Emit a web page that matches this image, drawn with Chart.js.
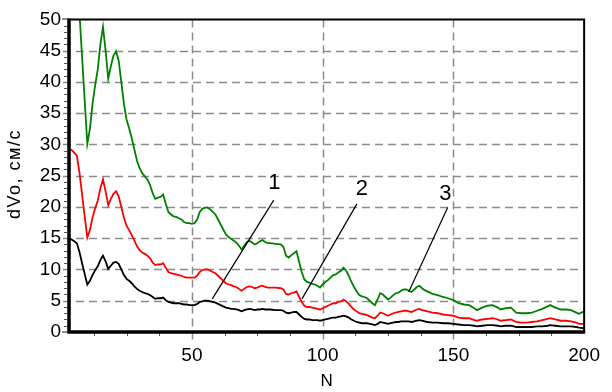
<!DOCTYPE html>
<html>
<head>
<meta charset="utf-8">
<script src="https://cdn.jsdelivr.net/npm/chart.js@4"></script>
<style>
  html, body { margin: 0; padding: 0; background: #fff; }
  canvas { display: block; }
</style>
</head>
<body>
<canvas id="chart" width="612" height="392"></canvas>
<script>
// N values (shared by all three curves)
const nValues = [3,4,5,6,7,8,9,10,11,12,13,14,15,16,17,18,19,20,21,22,23,24,25,26,27,28,29,30,
  31,32,33,34,35,36,37,38,39,40,41,42,43,44,45,46,47,48,49,50,51,52,53,54,55,56,57,58,59,60,
  61,62,63,64,65,66,67,68,69,70,71,72,73,74,75,76,77,78,79,80,82,84,85,86,87,88,89,90,
  91,92,93,94,95,96,97,98,99,100,101,102,103,104,105,106,107,108,109,110,111,112,113,114,115,116,117,118,119,120,
  121,122,123,124,125,126,127,128,129,130,131,132,133,134,135,136,137,138,139,140,142,144,146,148,150,
  152,154,156,158,159,161,163,165,167,168,170,172,174,176,178,180,182,184,186,187,189,191,193,195,197,198,200];

// curve 3 (green)
const curve3 = [58.4,58.2,57.4,56.4,51,44,37,30.1,32.5,36.5,39.5,42,46,48.8,45,40.5,42.5,44.2,44.9,43.4,40,36.5,34,32.6,31,29.2,27.4,26.2,
  25.4,24.9,24.4,23.5,22.2,21.3,21.5,21.6,22.0,20.5,19.2,18.8,18.5,18.4,18.2,18.0,17.6,17.4,17.4,17.3,17.4,18.0,19.2,19.7,19.9,19.9,19.6,19.2,18.8,18.0,
  17.2,16.4,15.6,15.2,14.9,14.6,14.3,13.8,13.2,13.8,14.4,14.6,14.3,14.0,14.2,14.5,14.7,14.4,14.2,14.2,14.1,14.0,13.6,12.2,11.9,12.3,12.6,12.9,
  11.2,9.6,8.4,8.0,7.9,7.7,7.6,7.4,7.1,7.6,8.0,8.3,8.7,9.1,9.2,9.5,9.8,10.3,9.8,9.0,8.0,7.2,6.5,5.9,5.7,5.6,5.4,5.0,4.6,4.3,
  5.2,6.2,6.0,5.6,5.2,5.5,5.9,6.2,6.3,6.6,6.8,6.8,6.6,6.4,6.8,7.2,7.4,7.0,6.7,6.5,6.1,5.9,5.6,5.4,5.1,
  4.6,4.4,4.3,3.8,3.5,3.9,4.2,4.3,3.9,3.6,3.8,3.9,3.1,3.0,3.0,3.1,3.4,3.7,4.1,4.3,3.9,3.6,3.6,3.5,3.1,2.9,3.3];

// curve 2 (red)
const curve2 = [29.2,29.1,28.7,28.2,25.5,22,18.5,15.1,16.3,18.3,19.8,21,23,24.4,22.5,20.3,21.3,22.1,22.5,21.7,20,18.3,17,16.3,15.5,14.6,13.7,13.1,
  12.7,12.5,12.2,11.8,11.1,10.7,10.8,10.8,11,10.3,9.6,9.4,9.3,9.2,9.1,9,8.8,8.7,8.7,8.7,8.7,9,9.6,9.9,10,10,9.8,9.6,9.4,9,
  8.6,8.2,7.8,7.6,7.5,7.3,7.2,6.9,6.6,6.9,7.2,7.3,7.2,7,7.1,7.3,7.4,7.2,7.1,7.1,7.1,7,6.8,6.1,6,6.2,6.3,6.5,
  5.6,4.8,4.2,4,4,3.9,3.8,3.7,3.6,3.8,4,4.2,4.4,4.6,4.6,4.8,4.9,5.2,4.9,4.5,4,3.6,3.3,3,2.9,2.8,2.7,2.5,2.3,2.2,
  2.6,3.1,3,2.8,2.6,2.8,3,3.1,3.2,3.3,3.4,3.4,3.3,3.2,3.4,3.6,3.7,3.5,3.4,3.3,3.1,3,2.8,2.7,2.6,
  2.3,2.2,2.2,1.9,1.8,2,2.1,2.2,2,1.8,1.9,2,1.6,1.5,1.5,1.6,1.7,1.9,2.1,2.2,2,1.8,1.8,1.7,1.5,1.3,1.3];

// curve 1 (black)
const curve1 = [15.0,14.8,14.5,14.2,12.8,11,9.3,7.6,8.2,9.1,9.9,10.5,11.5,12.2,11.3,10.1,10.6,11.1,11.2,10.9,10,9.1,8.5,8.2,7.8,7.3,6.9,6.6,
  6.4,6.2,6.1,5.9,5.6,5.3,5.4,5.4,5.5,5.1,4.8,4.7,4.6,4.6,4.6,4.5,4.4,4.4,4.3,4.3,4.3,4.5,4.8,4.9,5,5,4.9,4.8,4.7,4.5,
  4.3,4.1,3.9,3.8,3.7,3.7,3.6,3.5,3.3,3.5,3.6,3.7,3.6,3.5,3.6,3.6,3.7,3.6,3.6,3.6,3.5,3.5,3.4,3.1,3,3.1,3.2,3.2,
  2.8,2.4,2.1,2,2,1.9,1.9,1.9,1.8,1.9,2,2.1,2.2,2.3,2.3,2.4,2.5,2.6,2.5,2.3,2,1.8,1.6,1.5,1.4,1.4,1.4,1.3,1.2,1.1,
  1.3,1.6,1.5,1.4,1.3,1.4,1.5,1.6,1.6,1.7,1.7,1.7,1.7,1.6,1.7,1.8,1.9,1.8,1.7,1.6,1.5,1.5,1.4,1.4,1.3,
  1.2,1.1,1.1,1,0.9,1,1.1,1.1,1,0.9,1,1,0.8,0.8,0.8,0.8,0.9,0.9,1,1.1,1,0.9,0.9,0.9,0.8,0.7,0.6];

const xTickValues = [50, 100, 150, 200];
const xMinorStep = 12.5;
const yMinorStep = 1;

// callout labels: text anchor and arrow end, in data units
const callouts = [
  { text: '1', label: [81.5, 23.9], from: [81.3, 21.1], to: [57.8, 5.3] },
  { text: '2', label: [115, 22.9], from: [113.1, 20.5], to: [92.1, 5.3] },
  { text: '3', label: [146.9, 22.1], from: [147.8, 19.9], to: [132.9, 6.4] }
];

function toXY(ys) {
  return nValues.map((n, i) => ({ x: n, y: ys[i] }));
}

const FONT = '"Liberation Sans", Arial, sans-serif';

const decorPlugin = {
  id: 'decor',
  beforeDatasetsDraw(chart) {
    const { ctx, chartArea: a, scales: { x, y } } = chart;
    ctx.save();
    ctx.strokeStyle = '#8c8c8c';
    ctx.lineWidth = 1.5;
    ctx.setLineDash([8, 5]);
    // horizontal grid
    for (let v = 5; v < 50; v += 5) {
      const py = Math.round(y.getPixelForValue(v)) + 0.5;
      ctx.beginPath();
      ctx.moveTo(a.left - 6, py);
      ctx.lineTo(a.right, py);
      ctx.stroke();
    }
    // vertical grid
    xTickValues.forEach(v => {
      if (v >= 200) return;
      const px = Math.round(x.getPixelForValue(v)) + 0.5;
      ctx.beginPath();
      ctx.moveTo(px, a.top);
      ctx.lineTo(px, a.bottom + 8);
      ctx.stroke();
    });
    ctx.restore();
  },
  afterDatasetsDraw(chart) {
    const { ctx, chartArea: a, scales: { x, y } } = chart;
    ctx.save();
    // tick marks
    ctx.strokeStyle = '#8c8c8c';
    ctx.lineWidth = 2;
    [0, 50].forEach(v => {
      const py = Math.round(y.getPixelForValue(v));
      ctx.beginPath();
      ctx.moveTo(a.left - 7, py);
      ctx.lineTo(a.left, py);
      ctx.stroke();
    });
    ctx.strokeStyle = '#555';
    ctx.lineWidth = 1;
    for (let v = 0; v <= 50; v += yMinorStep) {
      if (v % 5 === 0) continue;
      const py = Math.round(y.getPixelForValue(v)) + 0.5;
      ctx.beginPath();
      ctx.moveTo(a.left - 5, py);
      ctx.lineTo(a.left - 2, py);
      ctx.stroke();
    }
    for (let v = xMinorStep; v < 200; v += xMinorStep) {
      if (v % 50 === 0) continue;
      const px = Math.round(x.getPixelForValue(v)) + 0.5;
      ctx.beginPath();
      ctx.moveTo(px, a.bottom);
      ctx.lineTo(px, a.bottom + 4);
      ctx.stroke();
    }
    // frame
    ctx.strokeStyle = '#000';
    ctx.lineWidth = 2;
    ctx.beginPath();
    ctx.moveTo(a.left, a.top);
    ctx.lineTo(a.right, a.top);
    ctx.lineTo(a.right, a.bottom);
    ctx.stroke();
    ctx.lineWidth = 3.5;
    ctx.beginPath();
    ctx.moveTo(a.left, a.top - 1);
    ctx.lineTo(a.left, a.bottom);
    ctx.lineTo(a.right + 1, a.bottom);
    ctx.stroke();

    // callouts
    ctx.lineWidth = 1.2;
    ctx.strokeStyle = '#000';
    ctx.fillStyle = '#000';
    ctx.font = '22px ' + FONT;
    ctx.textAlign = 'center';
    ctx.textBaseline = 'middle';
    callouts.forEach(c => {
      ctx.beginPath();
      ctx.moveTo(x.getPixelForValue(c.from[0]), y.getPixelForValue(c.from[1]));
      ctx.lineTo(x.getPixelForValue(c.to[0]), y.getPixelForValue(c.to[1]));
      ctx.stroke();
      ctx.fillText(c.text, x.getPixelForValue(c.label[0]), y.getPixelForValue(c.label[1]));
    });

    // axis titles
    ctx.font = '17px ' + FONT;
    ctx.fillText('N', (a.left + a.right) / 2, 381);
    ctx.translate(15, 174);
    ctx.rotate(-Math.PI / 2);
    ctx.font = '18px ' + FONT;
    ctx.letterSpacing = '1.5px';
    ctx.fillText('dVo, см/с', 0, 0);
    ctx.restore();
  }
};

new Chart(document.getElementById('chart'), {
  type: 'line',
  data: {
    datasets: [
      { label: '3', data: toXY(curve3), borderColor: '#008000', borderWidth: 1.8, pointRadius: 0, tension: 0, fill: false },
      { label: '2', data: toXY(curve2), borderColor: '#ff0000', borderWidth: 1.8, pointRadius: 0, tension: 0, fill: false },
      { label: '1', data: toXY(curve1), borderColor: '#000000', borderWidth: 1.8, pointRadius: 0, tension: 0, fill: false }
    ]
  },
  options: {
    responsive: false,
    animation: false,
    events: [],
    layout: { padding: { top: 18, right: 13, left: 0, bottom: 0 }, autoPadding: false },
    plugins: { legend: { display: false }, tooltip: { enabled: false } },
    scales: {
      x: {
        type: 'linear',
        min: 3,
        max: 200,
        grid: { display: false, drawTicks: false },
        border: { display: false },
        afterBuildTicks: s => { s.ticks = xTickValues.map(v => ({ value: v })); },
        afterFit: s => { s.height = 60; },
        ticks: { color: '#000', font: { family: FONT, size: 19 }, padding: 12, maxRotation: 0, autoSkip: false }
      },
      y: {
        min: 0,
        max: 50,
        grid: { display: false, drawTicks: false },
        border: { display: false },
        afterFit: s => { s.width = 69; },
        ticks: { stepSize: 5, color: '#000', font: { family: FONT, size: 19 }, padding: 8 }
      }
    }
  },
  plugins: [decorPlugin]
});
</script>
</body>
</html>
